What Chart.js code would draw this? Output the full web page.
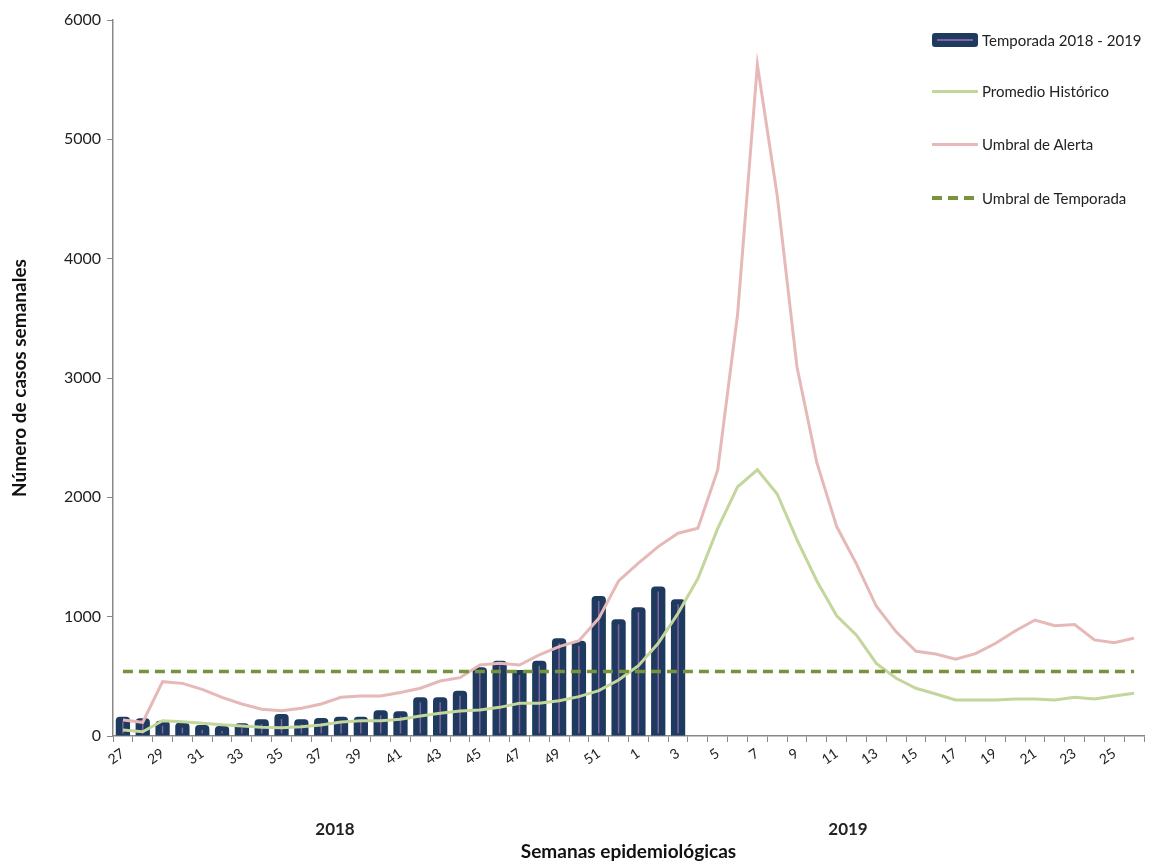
<!DOCTYPE html>
<html>
<head>
<meta charset="utf-8">
<script src="https://cdn.jsdelivr.net/npm/chart.js@4.4.1/dist/chart.umd.min.js"></script>
<style>
  html, body { margin: 0; padding: 0; background: #fff; }
  #wrap { position: relative; width: 1163px; height: 865px; font-family: Lato, "Open Sans", sans-serif; color: #222; }
  #chart { position: absolute; left: 0; top: 0; }
  .legend { position: absolute; left: 932px; top: 30px; font-size: 15px; }
  .leg-row { position: absolute; left: 0; display: flex; align-items: center; white-space: nowrap; }
  .sw { width: 46px; height: 20px; margin-right: 4px; position: relative; }
  .sw-bar { position: absolute; left: 0; top: 3px; width: 46px; height: 14px; background: #1f3a5f; border-radius: 3px; }
  .sw-bar::after { content: ''; position: absolute; left: 5px; right: 5px; top: 6px; height: 2px; background: #8064a2; }
  .sw-line { position: absolute; left: 0; top: 9px; width: 46px; height: 3px; }
  .sw-dash { position: absolute; left: 0; top: 8px; width: 46px; height: 4px;
    background: repeating-linear-gradient(90deg, #77933c 0 10px, transparent 10px 16px); }
  .year { position: absolute; top: 818px; font-size: 17px; font-weight: bold; transform: translateX(-50%); }
</style>
</head>
<body>
<div id="wrap">
  <canvas id="chart" width="1163" height="865"></canvas>
  <div class="legend">
    <div class="leg-row" style="top:0px"><div class="sw"><div class="sw-bar"></div></div>Temporada 2018 - 2019</div>
    <div class="leg-row" style="top:51px"><div class="sw"><div class="sw-line" style="background:#c3d69b"></div></div>Promedio Histórico</div>
    <div class="leg-row" style="top:104px"><div class="sw"><div class="sw-line" style="background:#e6b9b8"></div></div>Umbral de Alerta</div>
    <div class="leg-row" style="top:158px"><div class="sw"><div class="sw-dash"></div></div>Umbral de Temporada</div>
  </div>
  <div class="year" style="left:335px">2018</div>
  <div class="year" style="left:848px">2019</div>
</div>
<script>
// epidemiological weeks 27/2018 .. 26/2019
const weeks = ['27','28','29','30','31','32','33','34','35','36','37','38','39','40','41','42','43','44','45','46','47','48','49','50','51','52',
  '1','2','3','4','5','6','7','8','9','10','11','12','13','14','15','16','17','18','19','20','21','22','23','24','25','26'];

const season = [162,148,128,112,92,84,106,140,184,140,151,162,162,215,207,324,324,380,576,631,553,631,819,799,1173,978,
  1079,1252,1146];

const historic = [50,36,128,120,106,95,84,73,70,78,92,117,128,128,140,168,190,210,218,240,274,274,296,330,380,469,
  589,777,1028,1320,1740,2087,2231,2028,1643,1299,1008,845,609,484,400,352,302,302,302,310,310,302,324,310,335,358];

const alertLine = [134,115,455,441,391,324,268,224,212,232,268,324,335,335,365,400,461,489,595,609,595,679,749,799,986,1299,
  1448,1587,1699,1741,2230,3530,5625,4530,3090,2290,1755,1440,1087,873,710,687,644,690,775,880,972,924,934,805,781,820];

const seasonThreshold = weeks.map(() => 540);

const yTicks = [0, 1000, 2000, 3000, 4000, 5000, 6000];

// thin purple stroke down the middle of every bar, like the original
const barStripe = {
  id: 'barStripe',
  afterDatasetDraw(chart, args) {
    if (args.index !== 0) return;
    const ctx = chart.ctx;
    ctx.save();
    ctx.strokeStyle = '#8064a2';
    ctx.lineWidth = 1.5;
    args.meta.data.forEach((bar, i) => {
      if (season[i] == null) return;
      ctx.beginPath();
      ctx.moveTo(bar.x, bar.y + 5);
      ctx.lineTo(bar.x, bar.base - 2);
      ctx.stroke();
    });
    ctx.restore();
  }
};

const font = 'Lato, "Open Sans", sans-serif';

new Chart(document.getElementById('chart'), {
  data: {
    labels: weeks,
    datasets: [
      { type: 'bar', label: 'Temporada 2018 - 2019', data: season, backgroundColor: '#1f3a5f',
        borderRadius: 4, borderSkipped: 'bottom', barPercentage: 0.72, categoryPercentage: 1, order: 10 },
      { type: 'line', label: 'Promedio Histórico', data: historic, borderColor: '#c3d69b', borderWidth: 3,
        pointRadius: 0, tension: 0, order: 3 },
      { type: 'line', label: 'Umbral de Alerta', data: alertLine, borderColor: '#e6b9b8', borderWidth: 3,
        pointRadius: 0, tension: 0, order: 2 },
      { type: 'line', label: 'Umbral de Temporada', data: seasonThreshold, borderColor: '#77933c', borderWidth: 3.5,
        borderDash: [10, 6], pointRadius: 0, tension: 0, order: 1 }
    ]
  },
  options: {
    responsive: false,
    animation: false,
    layout: { padding: { top: 20, right: 19, left: 8, bottom: 2 } },
    plugins: { legend: { display: false }, tooltip: { enabled: false } },
    scales: {
      x: {
        offset: true,
        grid: { offset: true, drawOnChartArea: false, color: '#888', tickLength: 6 },
        border: { color: '#888', width: 1.5 },
        ticks: {
          autoSkip: false, maxRotation: 35, minRotation: 35, color: '#222', font: { family: font, size: 14 },
          callback: (v, i) => i % 2 === 0 ? weeks[i] : ''
        },
        title: { display: true, text: 'Semanas epidemiológicas', color: '#111',
          font: { family: font, size: 19, weight: 'bold' }, padding: { top: 0, bottom: 0 } },
        afterFit: s => { s.height = 127; }
      },
      y: {
        min: 0, max: 6000,
        afterBuildTicks: s => { s.ticks = yTicks.map(v => ({ value: v })); },
        grid: { drawOnChartArea: false, color: '#888', tickLength: 6 },
        border: { color: '#888', width: 1.5 },
        ticks: { color: '#222', font: { family: font, size: 16 }, padding: 6, callback: v => String(v) },
        title: { display: true, text: 'Número de casos semanales', color: '#111',
          font: { family: font, size: 19, weight: 'bold' }, padding: { top: 0, bottom: 8 } },
        afterFit: s => { s.width = 105; }
      }
    }
  },
  plugins: [barStripe]
});
</script>
</body>
</html>
